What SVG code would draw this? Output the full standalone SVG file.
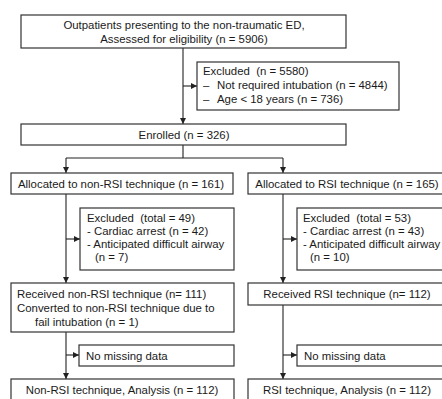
<svg xmlns="http://www.w3.org/2000/svg" width="442" height="399" viewBox="0 0 442 399">
<defs>
<marker id="ah" viewBox="0 0 6 6" refX="6" refY="3" markerWidth="6" markerHeight="6" markerUnits="userSpaceOnUse" orient="auto">
<path d="M0,0 L6,3 L0,6 z" fill="#222"/>
</marker>
<style>
.box{fill:#fff;stroke:#333;stroke-width:1.2}
.t{font-family:"Liberation Sans",Arial,sans-serif;font-size:11.4px;fill:#1a1a1a}
.c{text-anchor:middle}
.ln{fill:none;stroke:#222;stroke-width:1.1}
</style>
</defs>
<rect width="442" height="399" fill="#fff"/>
<g id="connectors">
<path class="ln" d="M183,48 V124" marker-end="url(#ah)"/>
<path class="ln" d="M183,86 H197" marker-end="url(#ah)"/>
<path class="ln" d="M183,145 V158 M66,158 H283"/>
<path class="ln" d="M66,158 V173" marker-end="url(#ah)"/>
<path class="ln" d="M283,158 V173" marker-end="url(#ah)"/>
<path class="ln" d="M66,194 V283" marker-end="url(#ah)"/>
<path class="ln" d="M66,239 H80" marker-end="url(#ah)"/>
<path class="ln" d="M283,194 V283" marker-end="url(#ah)"/>
<path class="ln" d="M283,239 H297" marker-end="url(#ah)"/>
<path class="ln" d="M66,332 V379" marker-end="url(#ah)"/>
<path class="ln" d="M66,355 H79" marker-end="url(#ah)"/>
<path class="ln" d="M283,305 V379" marker-end="url(#ah)"/>
<path class="ln" d="M283,355 H297" marker-end="url(#ah)"/>
</g>
<g id="assessed">
<rect class="box" x="21" y="15" width="325" height="33"/>
<text class="t c" x="184" y="29">Outpatients presenting to the non-traumatic ED,</text>
<text class="t c" x="184" y="43">Assessed for eligibility (n = 5906)</text>
</g>
<g id="excluded-top">
<rect class="box" x="197" y="62" width="202" height="48"/>
<text class="t" x="203" y="75">Excluded&#160; (n = 5580)</text>
<text class="t" x="203" y="89">–</text><text class="t" x="217" y="89">Not required intubation (n = 4844)</text>
<text class="t" x="203" y="103">–</text><text class="t" x="217" y="103">Age &lt; 18 years (n = 736)</text>
</g>
<g id="enrolled">
<rect class="box" x="21" y="124" width="325" height="21"/>
<text class="t c" x="184" y="139">Enrolled (n = 326)</text>
</g>
<g id="alloc-nonrsi">
<rect class="box" x="11" y="173" width="222" height="21"/>
<text class="t c" x="121" y="188">Allocated to non-RSI technique (n = 161)</text>
</g>
<g id="alloc-rsi">
<rect class="box" x="248" y="173" width="195" height="21"/>
<text class="t c" x="347" y="188">Allocated to RSI technique (n = 165)</text>
</g>
<g id="excl-nonrsi">
<rect class="box" x="80" y="208" width="154" height="62"/>
<text class="t" x="87" y="222">Excluded&#160; (total = 49)</text>
<text class="t" x="87" y="235">- Cardiac arrest (n = 42)</text>
<text class="t" x="87" y="248">- Anticipated difficult airway</text>
<text class="t" x="95" y="261">(n = 7)</text>
</g>
<g id="excl-rsi">
<rect class="box" x="297" y="208" width="147" height="62"/>
<text class="t" x="303" y="222">Excluded&#160; (total = 53)</text>
<text class="t" x="303" y="235">- Cardiac arrest (n = 43)</text>
<text class="t" x="303" y="248">- Anticipated difficult airway</text>
<text class="t" x="310" y="261">(n = 10)</text>
</g>
<g id="recv-nonrsi">
<rect class="box" x="11" y="283" width="223" height="49"/>
<text class="t" x="17" y="298">Received non-RSI technique (n= 111)</text>
<text class="t" x="17" y="312">Converted to non-RSI technique due to</text>
<text class="t" x="35" y="326">fail intubation (n = 1)</text>
</g>
<g id="recv-rsi">
<rect class="box" x="248" y="283" width="195" height="22"/>
<text class="t c" x="347" y="298">Received RSI technique (n= 112)</text>
</g>
<g id="missing-nonrsi">
<rect class="box" x="79" y="345" width="155" height="21"/>
<text class="t" x="86" y="360">No missing data</text>
</g>
<g id="missing-rsi">
<rect class="box" x="297" y="345" width="147" height="21"/>
<text class="t" x="304" y="360">No missing data</text>
</g>
<g id="analysis-nonrsi">
<rect class="box" x="11" y="379" width="223" height="30"/>
<text class="t c" x="122" y="394">Non-RSI technique, Analysis (n = 112)</text>
</g>
<g id="analysis-rsi">
<rect class="box" x="248" y="379" width="195" height="30"/>
<text class="t c" x="347" y="394">RSI technique, Analysis (n = 112)</text>
</g>
</svg>
